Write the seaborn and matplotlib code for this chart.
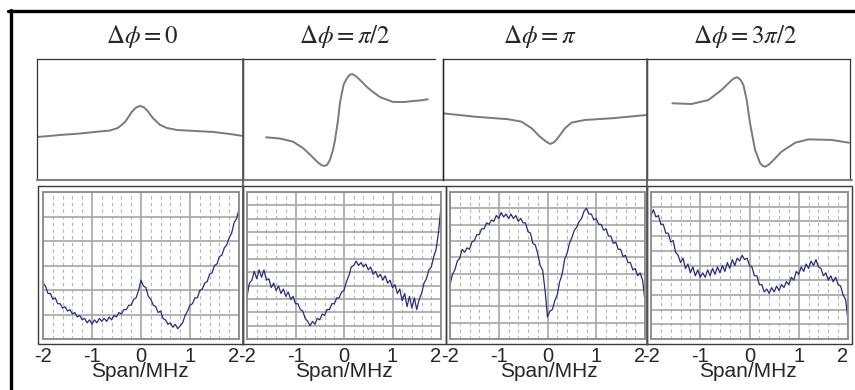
import numpy as np
import matplotlib
matplotlib.use("Agg")
import matplotlib.pyplot as plt
import seaborn as sns
from matplotlib.lines import Line2D
from matplotlib.patches import Rectangle

W, H = 855, 390

titles = [r"$\Delta\phi = 0$", r"$\Delta\phi = \pi/2$", r"$\Delta\phi = \pi$", r"$\Delta\phi = 3\pi/2$"]
tick_vals = [-2, -1, 0, 1, 2]
tick_labels = ["-2", "-1", "0", "1", "2"]
x_label = "Span/MHz"

# top row: calculated line shapes (x in MHz, y in a.u.)
calc0_x = [-2.00, -1.55, -1.17, -0.78, -0.58, -0.43, -0.29, -0.16, -0.08, 0.00,
           0.07, 0.14, 0.25, 0.39, 0.52, 0.72, 1.07, 1.42, 1.75, 2.00]
calc0_y = [0.355, 0.372, 0.384, 0.401, 0.409, 0.430, 0.479, 0.562, 0.598, 0.612,
           0.602, 0.575, 0.512, 0.455, 0.430, 0.413, 0.405, 0.397, 0.380, 0.364]

calc1_x = [-1.52, -1.23, -0.96, -0.75, -0.56, -0.44, -0.37, -0.31, -0.25, -0.19,
           -0.125, -0.083, -0.02, 0.02, 0.06, 0.10, 0.17, 0.22, 0.27, 0.32,
           0.375, 0.48, 0.58, 0.71, 0.85, 1.125, 1.375, 1.54, 1.69, 1.85]
calc1_y = [0.353, 0.343, 0.317, 0.264, 0.193, 0.145, 0.124, 0.116, 0.124, 0.165,
           0.248, 0.331, 0.496, 0.636, 0.719, 0.793, 0.843, 0.868, 0.876, 0.866,
           0.851, 0.810, 0.769, 0.727, 0.686, 0.645, 0.645, 0.653, 0.657, 0.667]

calc2_x = [-2.00, -1.37, -0.72, -0.46, -0.26, -0.10, 0.03, 0.10, 0.17, 0.23,
           0.39, 0.52, 0.78, 1.31, 1.99]
calc2_y = [0.551, 0.523, 0.502, 0.482, 0.427, 0.358, 0.315, 0.298, 0.310, 0.335,
           0.427, 0.474, 0.496, 0.510, 0.537]

calc3_x = [-1.50, -1.12, -0.79, -0.53, -0.33, -0.27, -0.22, -0.16, -0.10, -0.035,
           0.03, 0.13, 0.23, 0.28, 0.33, 0.39, 0.46, 0.65, 0.92, 1.18,
           1.64, 1.98]
calc3_y = [0.634, 0.628, 0.661, 0.744, 0.826, 0.843, 0.849, 0.830, 0.785, 0.661,
           0.469, 0.248, 0.138, 0.116, 0.110, 0.124, 0.151, 0.234, 0.308, 0.336,
           0.331, 0.308]

# bottom row: measured traces, one sample every 0.05 MHz from -2 to 2
span = np.linspace(-2, 2, 81)
meas0 = [0.38, 0.36, 0.31, 0.31, 0.27, 0.28, 0.24, 0.24, 0.21, 0.22,
         0.19, 0.20, 0.17, 0.18, 0.15, 0.16, 0.13, 0.14, 0.11, 0.13,
         0.10, 0.13, 0.11, 0.14, 0.12, 0.14, 0.12, 0.15, 0.13, 0.16,
         0.15, 0.18, 0.17, 0.20, 0.20, 0.23, 0.23, 0.27, 0.28, 0.33,
         0.40, 0.36, 0.35, 0.29, 0.27, 0.23, 0.22, 0.18, 0.19, 0.14,
         0.13, 0.10, 0.11, 0.08, 0.10, 0.07, 0.09, 0.11, 0.16, 0.19,
         0.23, 0.24, 0.28, 0.28, 0.33, 0.34, 0.38, 0.39, 0.44, 0.45,
         0.50, 0.51, 0.56, 0.57, 0.62, 0.64, 0.69, 0.72, 0.79, 0.82,
         0.88]
meas1 = [0.29, 0.38, 0.40, 0.46, 0.41, 0.47, 0.42, 0.47, 0.40, 0.41,
         0.35, 0.38, 0.33, 0.36, 0.31, 0.34, 0.29, 0.32, 0.27, 0.29,
         0.24, 0.24, 0.20, 0.19, 0.14, 0.12, 0.09, 0.12, 0.10, 0.14,
         0.13, 0.17, 0.16, 0.20, 0.20, 0.24, 0.24, 0.28, 0.28, 0.32,
         0.33, 0.39, 0.43, 0.49, 0.50, 0.53, 0.50, 0.52, 0.49, 0.51,
         0.47, 0.49, 0.44, 0.46, 0.42, 0.44, 0.40, 0.43, 0.38, 0.40,
         0.35, 0.37, 0.31, 0.34, 0.26, 0.31, 0.22, 0.29, 0.21, 0.28,
         0.20, 0.27, 0.31, 0.38, 0.41, 0.47, 0.49, 0.56, 0.61, 0.73,
         0.90]
meas2 = [0.37, 0.44, 0.47, 0.53, 0.55, 0.61, 0.59, 0.62, 0.61, 0.66,
         0.67, 0.71, 0.71, 0.75, 0.75, 0.79, 0.78, 0.81, 0.80, 0.84,
         0.82, 0.86, 0.83, 0.85, 0.82, 0.85, 0.82, 0.84, 0.80, 0.82,
         0.79, 0.79, 0.73, 0.72, 0.65, 0.64, 0.58, 0.50, 0.47, 0.33,
         0.15, 0.19, 0.20, 0.26, 0.30, 0.39, 0.44, 0.54, 0.58, 0.65,
         0.69, 0.74, 0.76, 0.80, 0.82, 0.87, 0.89, 0.85, 0.85, 0.81,
         0.82, 0.78, 0.78, 0.74, 0.75, 0.70, 0.70, 0.65, 0.66, 0.61,
         0.61, 0.56, 0.57, 0.52, 0.52, 0.47, 0.48, 0.43, 0.45, 0.40,
         0.26]
meas3 = [0.84, 0.88, 0.83, 0.84, 0.78, 0.78, 0.72, 0.72, 0.66, 0.67,
         0.59, 0.57, 0.52, 0.55, 0.48, 0.51, 0.45, 0.49, 0.43, 0.47,
         0.42, 0.45, 0.42, 0.47, 0.43, 0.48, 0.44, 0.49, 0.45, 0.50,
         0.46, 0.52, 0.48, 0.54, 0.50, 0.55, 0.53, 0.57, 0.54, 0.55,
         0.50, 0.49, 0.43, 0.43, 0.37, 0.37, 0.32, 0.34, 0.31, 0.35,
         0.32, 0.36, 0.33, 0.37, 0.35, 0.39, 0.37, 0.42, 0.40, 0.46,
         0.44, 0.49, 0.46, 0.51, 0.48, 0.53, 0.50, 0.54, 0.49, 0.48,
         0.43, 0.45, 0.40, 0.43, 0.39, 0.42, 0.37, 0.36, 0.30, 0.27,
         0.13]

calc = [(calc0_x, calc0_y), (calc1_x, calc1_y), (calc2_x, calc2_y), (calc3_x, calc3_y)]
meas = [meas0, meas1, meas2, meas3]

sns.set_style("white")
plt.rcParams["font.family"] = ["Liberation Sans", "DejaVu Sans"]
plt.rcParams["mathtext.fontset"] = "stix"
plt.rcParams["axes.unicode_minus"] = False

fig = plt.figure(figsize=(W / 100, H / 100), dpi=100)


def rect(x0, y0, x1, y1):
    # pixel box (top-left origin) -> figure fraction
    return [x0 / W, 1 - y1 / H, (x1 - x0) / W, (y1 - y0) / H]


def fline(x0, y0, x1, y1, **kw):
    fig.add_artist(Line2D([x0 / W, x1 / W], [1 - y0 / H, 1 - y1 / H],
                          transform=fig.transFigure, **kw))


top_boxes = [(37, 59, 243, 180), (243, 59, 435, 180), (443, 59, 647, 180), (647, 59, 850, 180)]
bot_boxes = [(43, 192, 239, 339), (247, 192, 441, 339), (450, 192, 645, 339), (651, 192, 848, 339)]
outer_boxes = [(38, 186, 243, 344), (243, 186, 446, 344), (446, 186, 647, 344), (647, 186, 852, 344)]
h_divs = [6, 11, 9, 10]
title_x = [142, 345, 540, 745]
label_x = [140, 344, 549, 748]

trace_col = "#262c80"
grid_col = "#a6a6a6"

for i in range(4):
    # calculated line shape
    ax = fig.add_axes(rect(*top_boxes[i]))
    cx, cy = calc[i]
    sns.lineplot(x=cx, y=cy, ax=ax, color="#7a7a7a", lw=1.4, sort=False, estimator=None,
                 solid_joinstyle="round")
    ax.set_xlim(-2, 2)
    ax.set_ylim(0, 1)
    ax.set_xticks([])
    ax.set_yticks([])
    for s in ax.spines.values():
        s.set_color("#333333")
        s.set_linewidth(0.9)
    ax.spines["bottom"].set_visible(False)
    if i == 1:
        ax.spines["right"].set_visible(False)
    ax.patch.set_alpha(0)
    fig.text(title_x[i] / W, 1 - 43 / H, titles[i], ha="center", va="baseline", fontsize=18)

    # outer frame of the scope screenshot
    x0, y0, x1, y1 = outer_boxes[i]
    fig.add_artist(Rectangle((x0 / W, 1 - y1 / H), (x1 - x0) / W, (y1 - y0) / H,
                             transform=fig.transFigure, fill=False, ec="#3a3a3a", lw=1.0))

    # measured trace
    bx = fig.add_axes(rect(*bot_boxes[i]))
    sns.lineplot(x=span, y=meas[i], ax=bx, color=trace_col, lw=0.9, sort=False, estimator=None)
    bx.set_xlim(-2, 2)
    bx.set_ylim(0, 1)
    bx.set_xticks(tick_vals)
    bx.set_xticklabels(tick_labels, fontsize=14.5)
    bx.get_xticklabels()[-1].set_horizontalalignment("right")
    bx.set_xticks(np.arange(-2, 2.01, 0.2), minor=True)
    bx.set_yticks(np.linspace(0, 1, h_divs[i] + 1))
    bx.set_yticklabels([])
    bx.tick_params(axis="both", which="both", length=0, pad=6)
    bx.set_axisbelow(True)
    bx.grid(axis="x", which="major", color=grid_col, lw=1.2, ls="-")
    bx.grid(axis="x", which="minor", color="#b4b4b4", lw=0.8, ls=(0, (3, 3)))
    bx.grid(axis="y", which="major", color=grid_col, lw=1.2, ls="-")
    for s in bx.spines.values():
        s.set_color("#8c8c8c")
        s.set_linewidth(1.3)
    fig.text(label_x[i] / W, 1 - 377 / H, x_label, ha="center", va="baseline", fontsize=15)

# separators and outer black border
fline(37, 180, 852, 180, color="#808080", lw=1.5)
fline(243, 59, 243, 345, color="#555555", lw=1.2)
fline(647, 59, 647, 345, color="#555555", lw=1.2)
fline(443, 59, 443, 180, color="#222222", lw=1.0)
fline(8, 11, 855, 11, color="black", lw=2.4)
fline(10.5, 10, 10.5, 390, color="black", lw=2.4)

fig.savefig("out.png", dpi=100)
